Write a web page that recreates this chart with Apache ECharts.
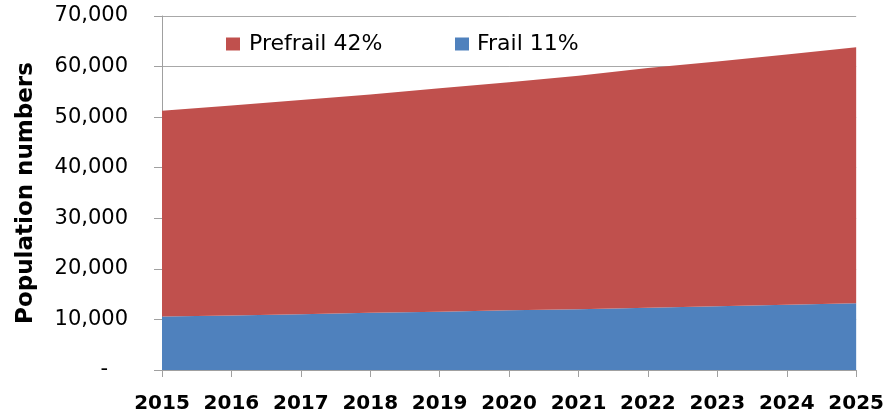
<!DOCTYPE html>
<html>
<head>
<meta charset="utf-8">
<script src="https://cdn.jsdelivr.net/npm/echarts@6/dist/echarts.min.js"></script>
<style>
html,body{margin:0;padding:0;background:#fff;}
#chart{width:887px;height:418px;}
</style>
</head>
<body>
<div id="chart"></div>
<script>
const years = ['2015','2016','2017','2018','2019','2020','2021','2022','2023','2024','2025'];
const frail = [10600,10800,11000,11300,11500,11800,12000,12300,12600,12900,13200];
const prefrail = [40650,41500,42400,43200,44200,45100,46200,47400,48400,49500,50600];
const seriesNames = ['Prefrail 42%','Frail 11%'];
const yTitle = 'Population numbers';

const chart = echarts.init(document.getElementById('chart'), null, {renderer:'canvas'});
const font = 'DejaVu Sans';
chart.setOption({
  animation:false,
  backgroundColor:'#fff',
  grid:{left:162,right:28,top:16,bottom:48,containLabel:false},
  legend:[
    {left:226,top:33,padding:0,itemWidth:14,itemHeight:13,itemGap:0,icon:'rect',
     textStyle:{fontFamily:font,fontSize:22,color:'#000',padding:[0,0,0,4]},
     data:[seriesNames[0]]},
    {left:455,top:33,padding:0,itemWidth:14,itemHeight:13,itemGap:0,icon:'rect',
     textStyle:{fontFamily:font,fontSize:22,color:'#000',padding:[0,0,0,3]},
     data:[seriesNames[1]]}
  ],
  xAxis:{
    type:'category',data:years,boundaryGap:false,
    axisLine:{lineStyle:{color:'#a0a0a0',width:1}},
    axisTick:{show:true,length:7,alignWithLabel:true,lineStyle:{color:'#a0a0a0'}},
    axisLabel:{fontFamily:font,fontWeight:'bold',fontSize:20,color:'#000',margin:24,interval:0},
    splitLine:{show:false}
  },
  yAxis:{
    type:'value',min:0,max:70000,interval:10000,
    name:yTitle,nameLocation:'middle',nameGap:124,nameRotate:90,
    nameTextStyle:{fontFamily:font,fontWeight:'bold',fontSize:23,color:'#000'},
    axisLine:{show:true,lineStyle:{color:'#a0a0a0',width:1}},
    axisTick:{show:true,length:8,lineStyle:{color:'#a0a0a0'}},
    axisLabel:{fontFamily:font,fontSize:21,color:'#000',margin:34,
      formatter:function(v){return v===0?'-   ':v.toLocaleString('en-US');}},
    splitLine:{show:true,lineStyle:{color:'#a8a8a8',width:1}}
  },
  series:[
    {name:seriesNames[1],type:'line',stack:'pop',data:frail,symbol:'none',
     itemStyle:{color:'#4F81BD'},lineStyle:{width:0,color:'#4F81BD'},
     areaStyle:{color:'#4F81BD',opacity:1}},
    {name:seriesNames[0],type:'line',stack:'pop',data:prefrail,symbol:'none',
     itemStyle:{color:'#C0504D'},lineStyle:{width:0,color:'#C0504D'},
     areaStyle:{color:'#C0504D',opacity:1}}
  ]
});
</script>
</body>
</html>
